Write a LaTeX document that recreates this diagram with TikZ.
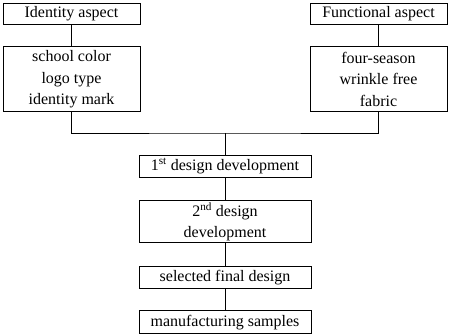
\documentclass[tikz,border=0pt]{standalone}
\usepackage{fontspec}
\setmainfont{Liberation Serif}
\usepackage{tikz}
\usetikzlibrary{positioning}

\begin{document}
\begin{tikzpicture}[x=1pt, y=-1pt,
    box/.style={rectangle, draw, line width=0.9pt, inner sep=0pt,
      align=center, font=\fontsize{16}{21.5}\selectfont},
    aspect/.style={box, minimum width=137pt, minimum height=21pt},
    list/.style={box, minimum width=137pt, minimum height=65pt},
    stage/.style={box, minimum width=172pt, minimum height=22pt},
    link/.style={line width=0.9pt}
]
\useasboundingbox (0,0) rectangle (450,333);
\node[aspect] (ident) at (71.5,13.5) {Identity aspect};
\node[list, below=22pt of ident] (identlist) {school color\\logo type\\identity mark};
\node[aspect] (func) at (378.5,13.5) {Functional aspect};
\node[list, below=22pt of func] (funclist) {four-season\\wrinkle free\\fabric};
\coordinate (join) at (225,133);
\node[stage] (dev1) at (225,166) {1\textsuperscript{st} design development};
\node[stage, minimum height=42pt, below=23pt of dev1] (dev2) {2\textsuperscript{nd} design\\development};
\node[stage, below=23pt of dev2] (final) {selected final design};
\node[stage, minimum height=23pt, below=21pt of final] (sample) {manufacturing samples};
\draw[link] (ident) -- (identlist);
\draw[link] (func) -- (funclist);
\draw[link] (identlist.south) |- (join) -| (funclist.south);
\draw[link] (join) -- (dev1);
\draw[link] (dev1) -- (dev2);
\draw[link] (dev2) -- (final);
\draw[link] (final) -- (sample);
\end{tikzpicture}
\end{document}
